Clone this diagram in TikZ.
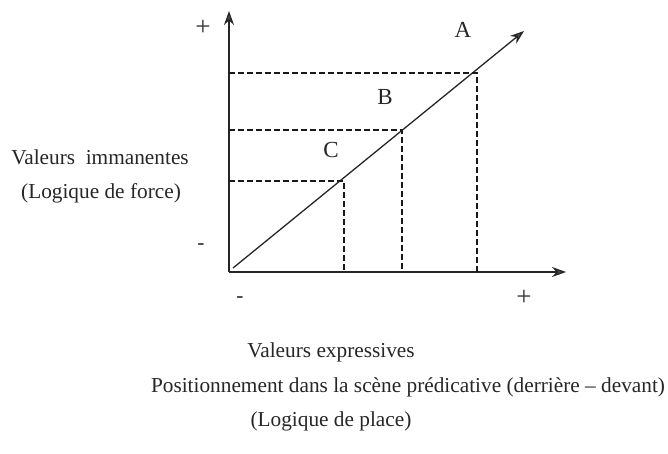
\documentclass[tikz,border=0pt]{standalone}
\usepackage{fontspec}
\setmainfont{Liberation Serif}
\usetikzlibrary{arrows.meta}
\begin{document}
\begin{tikzpicture}[x=1pt,y=-1pt,
  axis/.style={draw=black!85, line width=1.3pt, -{Stealth[length=14pt,width=10pt,fill=black!70]}},
  guide/.style={draw=black!90, line width=1.2pt, dash pattern=on 5.5pt off 3.5pt},
  lbl/.style={font=\fontsize{21.3}{24}\selectfont, inner sep=0pt, text=black!85},
  sign/.style={font=\fontsize{27}{30}\selectfont, inner sep=0pt, text=black!80},
  big/.style={font=\fontsize{23}{26}\selectfont, inner sep=0pt, text=black!85}]
\useasboundingbox (0,0) rectangle (668,453);
% axes
\coordinate (O) at (229,272);
\coordinate (ytip) at (229,11);
\coordinate (xtip) at (566,272);
\coordinate (dstart) at (233,268);
\coordinate (dtip) at (524,31);
\draw[axis] (O) -- (ytip);
\draw[axis] (O) -- (xtip);
\draw[axis] (dstart) -- (dtip);
% guide points
\coordinate (pA) at (477,73);
\coordinate (pB) at (402,130);
\coordinate (pC) at (344,181);
\coordinate (yA) at (229,73);
\coordinate (yB) at (229,130);
\coordinate (yC) at (229,181);
\coordinate (xA) at (477,272);
\coordinate (xB) at (402,272);
\coordinate (xC) at (344,272);
\draw[guide] (yA) -- (pA) -- (xA);
\draw[guide] (yB) -- (pB) -- (xB);
\draw[guide] (yC) -- (pC) -- (xC);
% labels
\node[sign] (plusY) at (203,28) {+};
\node[lbl] (minusY) at (201,247) {-};
\node[lbl] (minusX) at (240,300) {-};
\node[sign] (plusX) at (524,298) {+};
\node[big] (A) at (463,30) {A};
\node[big] (B) at (385,97) {B};
\node[big] (C) at (331,150) {C};
\node[lbl] (vi) at (100,157) {Valeurs\ \ immanentes};
\node[lbl] (lf) at (101,193) {(Logique de force)};
\node[lbl] (ve) at (331,352) {Valeurs expressives};
\node[lbl] (pos) at (408,387) {Positionnement dans la scène prédicative (derrière – devant)};
\node[lbl] (lp) at (331,421) {(Logique de place)};
\end{tikzpicture}
\end{document}
